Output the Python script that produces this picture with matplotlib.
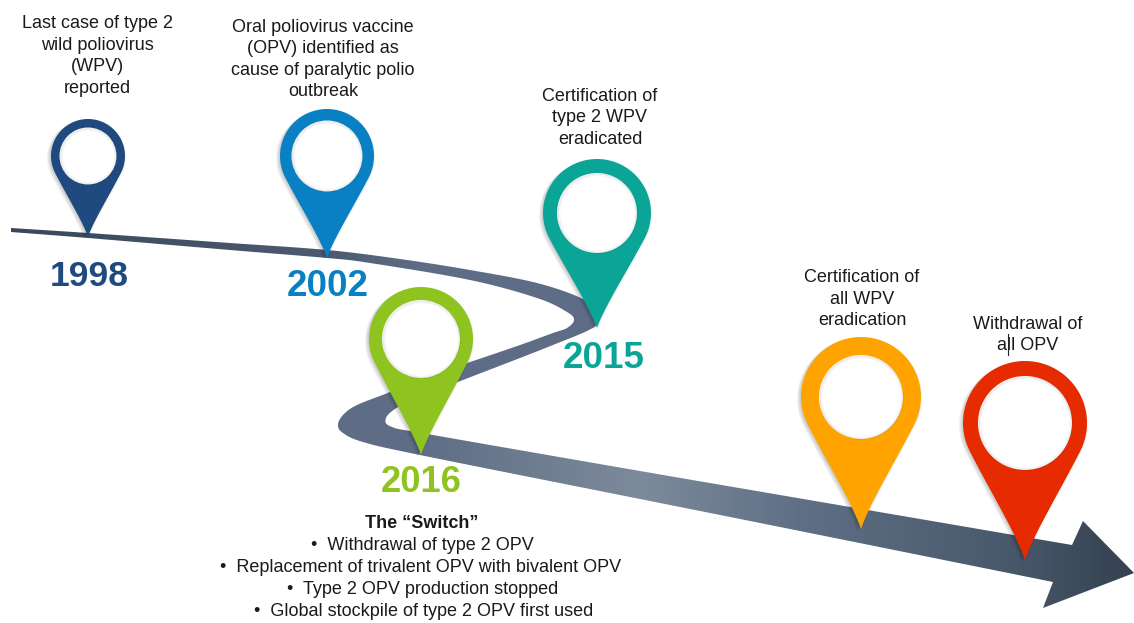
import numpy as np
import matplotlib
matplotlib.use("Agg")
import matplotlib.pyplot as plt
from matplotlib.patches import Polygon, Circle
from matplotlib.colors import LinearSegmentedColormap

# ---------- content ----------
years = ["1998", "2002", "2015", "2016"]
captions = [
    "Last case of type 2\nwild poliovirus\n(WPV)\nreported",
    "Oral poliovirus vaccine\n(OPV) identified as\ncause of paralytic polio\noutbreak",
    "Certification of\ntype 2 WPV\neradicated",
    "",
    "Certification of\nall WPV\neradication",
    "Withdrawal of\nall OPV",
]
switch_title = "The \u201cSwitch\u201d"
switch_items = [
    "\u2022  Withdrawal of type 2 OPV",
    "\u2022  Replacement of trivalent OPV with bivalent OPV",
    "\u2022  Type 2 OPV production stopped",
    "\u2022  Global stockpile of type 2 OPV first used",
]
pin_colors = ["#1f4a80", "#0a80c4", "#0aa596", "#8fc31f", "#ffa300", "#e62b00"]

# ---------- layout (image pixels) ----------
W, H = 1134, 623
pin_cx = [88, 327, 597, 421, 861, 1025]
pin_cy = [156, 156, 213, 339, 397, 423]
pin_r = [37, 47, 54, 52, 60, 62]
hole_r = [28.5, 35.5, 40, 39, 42, 47]
pin_tip = [237, 258, 328, 455, 529, 560]
year_xy = [(89, 277), (328, 286), (604, 359), (421.5, 482)]
year_size = [25.5, 26.5, 26.5, 26.2]
caption_xy = [(97, 56), (323, 59.5), (600, 118), None, (862, 299), (1028, 335)]
caption_spacing = [1.37, 1.33, 1.37, 1.37, 1.37, 1.37]
edge_a = [(11, 228), (88, 233), (230, 243), (327, 250), (400, 259), (470, 270), (537, 283),
          (583, 299), (597, 313), (598, 323), (587, 331), (553, 345), (520, 358), (463, 380),
          (420, 397), (398, 407), (386, 418), (392, 427), (433, 435), (640, 471), (780, 495),
          (1072, 545)]
edge_b = [(11, 232), (88, 238), (230, 250), (327, 258), (370, 263), (470, 280), (537, 298),
          (567, 312), (574, 320), (567, 328), (553, 333), (520, 345), (470, 362), (420, 378),
          (390, 392), (357, 405), (343, 415), (338, 425), (343, 433), (363, 442), (420, 455),
          (640, 499), (780, 527), (1053, 582)]
arrow_head = [(1072, 545), (1083, 521), (1134, 573), (1043, 608), (1053, 582)]
grad_pos = [0, 330, 420, 640, 800, 1000, 1134]
grad_col = ["#3a475a", "#4c5b72", "#5f6e86", "#7d8a9b", "#5f7086", "#4a5a6e", "#354150"]


def spline(pts, n=24):
    p = np.array(pts, float)
    p = np.vstack([2 * p[0] - p[1], p, 2 * p[-1] - p[-2]])
    out = []
    for i in range(1, len(p) - 2):
        t = np.linspace(0, 1, n, endpoint=False)[:, None]
        a, b, c, d = p[i - 1], p[i], p[i + 1], p[i + 2]
        out.append(0.5 * (2 * b + (c - a) * t + (2 * a - 5 * b + 4 * c - d) * t ** 2
                          + (3 * b - a - 3 * c + d) * t ** 3))
    out.append(p[-2][None, :])
    return np.vstack(out)


def pin_outline(cx, cy, r, tip):
    h = tip - cy
    a = np.arcsin(r / h)
    ang = np.linspace(np.pi - a, 2 * np.pi + a, 120)
    arc = np.c_[cx + r * np.cos(ang), cy + r * np.sin(ang)]
    p0 = arc[-1]
    p3 = np.array([cx, tip], float)
    p1 = p0 + (p3 - p0) * 0.36
    p2 = p0 + (p3 - p0) * 0.76
    p2[0] = cx + (p2[0] - cx) * 0.66
    t = np.linspace(0, 1, 40)[:, None]
    right = (1 - t) ** 3 * p0 + 3 * (1 - t) ** 2 * t * p1 + 3 * (1 - t) * t ** 2 * p2 + t ** 3 * p3
    left = right[::-1].copy()
    left[:, 0] = 2 * cx - left[:, 0]
    return np.vstack([arc, right, left[1:]])


plt.rcParams["font.family"] = ["Liberation Sans", "DejaVu Sans"]
fig = plt.figure(figsize=(W / 100, H / 100), dpi=100)
ax = fig.add_axes([0, 0, 1, 1])
ax.set_xlim(0, W)
ax.set_ylim(H, 0)
ax.axis("off")

# ribbon: gradient follows the path; only the first band and the exit band change colour with x
outline = np.vstack([spline(edge_a), arrow_head, spline(edge_b)[::-1]])
cmap = LinearSegmentedColormap.from_list(
    "ribbon", [(p / W, c) for p, c in zip(grad_pos, grad_col)])
xx, yy = np.meshgrid(np.arange(W) + 0.5, np.arange(H) + 0.5)
exit_band = yy > 425 + 0.1 * (xx - 385)
first_band = yy < 272
shade = np.full(xx.shape, 420.0)
shade[exit_band] = np.maximum(xx, 420)[exit_band]
shade[first_band] = np.minimum(xx, 420)[first_band]
im = ax.imshow(shade / W, cmap=cmap, extent=[0, W, H, 0], aspect="auto", zorder=1, vmin=0, vmax=1)
clip = Polygon(outline, closed=True, transform=ax.transData, fc="none", ec="none")
ax.add_patch(clip)
im.set_clip_path(clip)

# pins
for i, col in enumerate(pin_colors):
    z = 3 + i
    cx, cy, r, hr, tip = pin_cx[i], pin_cy[i], pin_r[i], hole_r[i], pin_tip[i]
    shape = pin_outline(cx, cy, r, tip)
    for dx, dy in [(-4, 2), (-3, 2), (-2, 1), (-1, 1), (1, 1)]:
        ax.add_patch(Polygon(shape + [dx, dy], closed=True, fc="black", ec="none",
                             alpha=0.05, zorder=z))
    ax.add_patch(Polygon(shape, closed=True, fc=col, ec="none", zorder=z))
    ax.add_patch(Circle((cx, cy), hr, fc="white", ec="none", zorder=z))
    for k, al in enumerate([0.07, 0.04, 0.02]):
        ax.add_patch(Circle((cx + 0.5, cy + 0.5), hr - 0.5 - k, fc="none", ec="black", lw=1,
                            alpha=al, zorder=z))

# years
for (x, y), yr, col, fs in zip(year_xy, years, pin_colors, year_size):
    ax.text(x, y, yr, color=col, fontsize=fs, fontweight="bold", ha="center",
            va="center", zorder=12)

# captions
for xy, cap, sp in zip(caption_xy, captions, caption_spacing):
    if xy is None:
        continue
    ax.text(xy[0], xy[1], cap, fontsize=13, color="#1a1a1a", ha="center", va="center",
            linespacing=sp, zorder=12)

# the Switch block
ax.text(422, 524, switch_title, fontsize=13, fontweight="bold", color="#1a1a1a",
        ha="center", va="center", zorder=12)
for x, y, item in zip([422, 421, 423, 424], [546, 568, 590, 612], switch_items):
    ax.text(x, y, item, fontsize=13, color="#1a1a1a", ha="center", va="center", zorder=12)

# stray text cursor in the source slide
ax.plot([1008, 1008], [334, 355], color="#222222", lw=0.8, zorder=12)

fig.savefig("out.png", dpi=100, facecolor="white")
